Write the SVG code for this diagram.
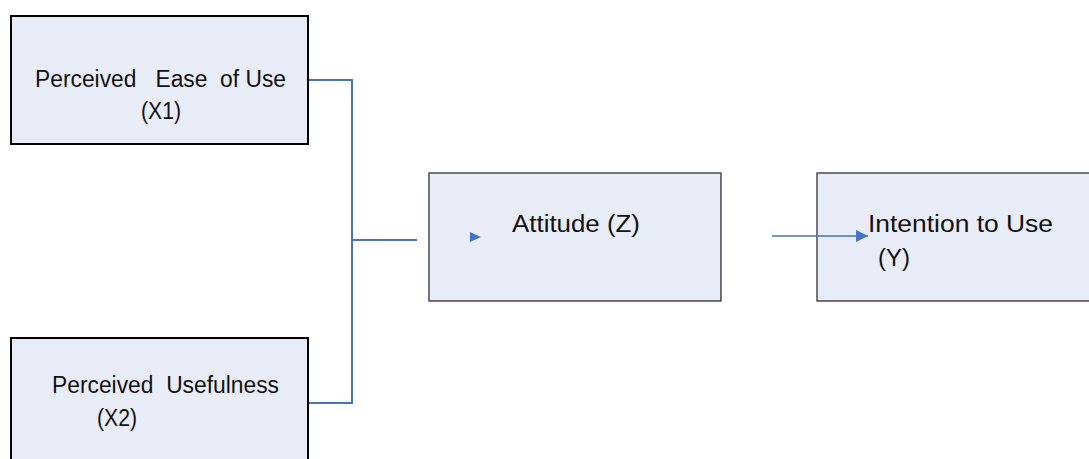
<svg xmlns="http://www.w3.org/2000/svg" width="1089" height="459" viewBox="0 0 1089 459">
  <style>
    .box { fill: #E8ECF7; }
    .bold { stroke: #000; stroke-width: 2; }
    .lbl { font-family: "Liberation Sans", Arial, sans-serif; font-size: 23px; fill: #111; white-space: pre; }
    .wire { fill: none; stroke: #4472C4; stroke-width: 2; }
  </style>
  <defs>
    <marker id="tip" viewBox="0 0 10 10" refX="10" refY="5" markerWidth="12" markerHeight="12" markerUnits="userSpaceOnUse" orient="auto">
      <path d="M0,0 L10,5 L0,10 z" fill="#4472C4"/>
    </marker>
  </defs>
  <rect width="1089" height="459" fill="#fff"/>

  <g id="node-x1">
    <rect class="box bold" x="11" y="16" width="297" height="128"/>
    <text class="lbl" x="35" y="87" textLength="251" lengthAdjust="spacingAndGlyphs" xml:space="preserve">Perceived   Ease  of Use</text>
    <text class="lbl" x="141" y="119" textLength="40" lengthAdjust="spacingAndGlyphs">(X1)</text>
  </g>

  <g id="node-x2">
    <rect class="box bold" x="11" y="338" width="297" height="140"/>
    <text class="lbl" x="52" y="393" textLength="227" lengthAdjust="spacingAndGlyphs" xml:space="preserve">Perceived  Usefulness</text>
    <text class="lbl" x="97" y="426" textLength="40" lengthAdjust="spacingAndGlyphs">(X2)</text>
  </g>

  <g id="node-z">
    <rect class="box" x="429" y="173" width="292" height="128" stroke="#1a1a1a" stroke-width="1.2"/>
    <path d="M429,301 V173 H721" fill="none" stroke="#7a7a7a" stroke-width="1.2"/>
    <text class="lbl" x="512" y="232" textLength="128" lengthAdjust="spacingAndGlyphs">Attitude (Z)</text>
  </g>

  <g id="node-y">
    <rect class="box" x="817" y="173" width="290" height="128" stroke="#1a1a1a" stroke-width="1.2"/>
    <path d="M817,301 V173 H1089" fill="none" stroke="#7a7a7a" stroke-width="1.2"/>
    <text class="lbl" x="868" y="232" textLength="185" lengthAdjust="spacingAndGlyphs">Intention to Use</text>
    <text class="lbl" x="878" y="266" textLength="32" lengthAdjust="spacingAndGlyphs">(Y)</text>
  </g>

  <g id="connectors">
    <path class="wire" d="M309,80 H352 V403 H309"/>
    <path class="wire" d="M352,240 H417"/>
    <path d="M470,232 L481,237 L470,242 z" fill="#4472C4"/>
    <path d="M772,236 H868" stroke="#4472C4" stroke-width="1.3" fill="none" marker-end="url(#tip)"/>
  </g>
</svg>
